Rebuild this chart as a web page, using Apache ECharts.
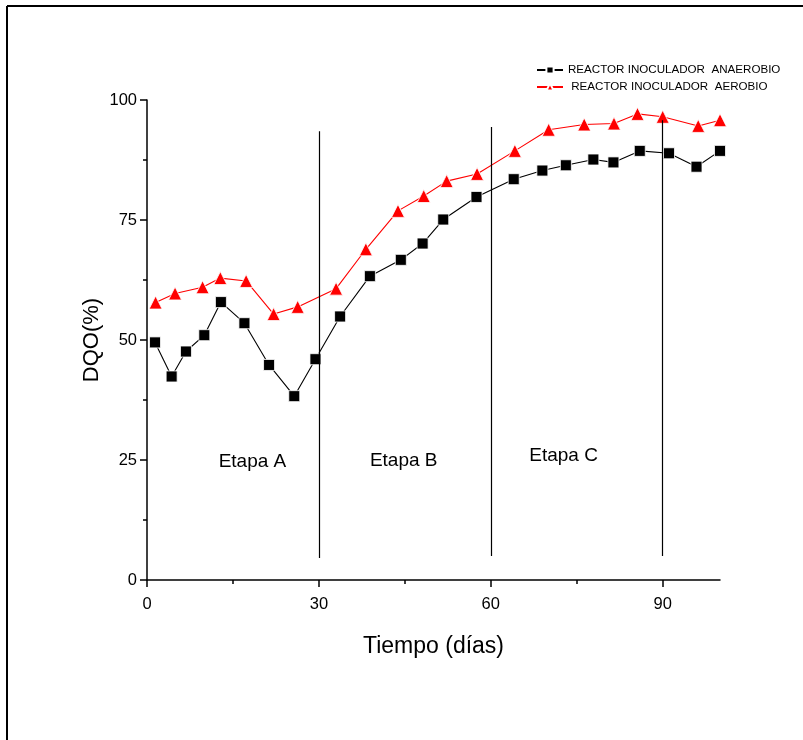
<!DOCTYPE html>
<html>
<head>
<meta charset="utf-8">
<script src="https://cdn.jsdelivr.net/npm/echarts@6/dist/echarts.min.js"></script>
<style>
  html, body { margin: 0; padding: 0; background: #fff; }
  #chart { width: 803px; height: 740px; }
</style>
</head>
<body>
<div id="chart"></div>
<script>
// Removal of COD (DQO, %) over time for the two inoculated reactors
const anaerobioDias = [1.4, 4.3, 6.8, 10.0, 12.9, 17.0, 21.3, 25.7, 29.4, 33.7, 38.9, 44.3, 48.1, 51.7, 57.5, 64.0, 69.0, 73.1, 77.9, 81.4, 86.0, 91.1, 95.9, 100.0];
const anaerobioDQO  = [49.5, 42.4, 47.6, 51.0, 57.9, 53.5, 44.8, 38.3, 46.0, 54.9, 63.3, 66.7, 70.1, 75.1, 79.8, 83.5, 85.3, 86.4, 87.6, 87.0, 89.4, 88.9, 86.1, 89.4];

const aerobioDias = [1.5, 4.9, 9.7, 12.8, 17.3, 22.1, 26.3, 33.0, 38.2, 43.8, 48.3, 52.3, 57.6, 64.2, 70.1, 76.3, 81.5, 85.6, 90.0, 96.2, 100.0];
const aerobioDQO  = [57.8, 59.7, 61.0, 62.9, 62.3, 55.4, 56.9, 60.7, 68.9, 76.9, 80.0, 83.1, 84.6, 89.4, 93.8, 94.9, 95.1, 97.1, 96.5, 94.6, 95.8];

// Stage boundaries: day, lower and upper DQO value of each separator line
const limitesDias = [30, 60, 90];
const limitesDesde = [4.6, 5.0, 5.0];
const limitesHasta = [93.5, 94.4, 95.8];

// Stage names and where they are written (day, DQO)
const etapas = ['Etapa A', 'Etapa B', 'Etapa C'];
const etapasDias = [18.4, 44.8, 72.7];
const etapasDQO = [24.6, 24.8, 25.8];

const nombreAnaerobio = 'REACTOR INOCULADOR  ANAEROBIO';
const nombreAerobio = ' REACTOR INOCULADOR  AEROBIO';

const xTicks = [0, 30, 60, 90];
const yTicks = [0, 25, 50, 75, 100];

const font = '"Liberation Sans", Arial, sans-serif';
const pair = (xs, ys) => xs.map((x, i) => [x, ys[i]]);

const chart = echarts.init(document.getElementById('chart'), null, { renderer: 'canvas' });

chart.setOption({
  backgroundColor: '#fff',
  animation: false,
  textStyle: { fontFamily: font },
  graphic: [
    { type: 'line', shape: { x1: 7, y1: 6, x2: 803, y2: 6 }, style: { stroke: '#000', lineWidth: 2 } },
    { type: 'line', shape: { x1: 7, y1: 6, x2: 7, y2: 740 }, style: { stroke: '#000', lineWidth: 2 } }
  ],
  legend: {
    data: [nombreAnaerobio, nombreAerobio],
    orient: 'vertical',
    left: 531,
    top: 59,
    itemWidth: 26,
    itemHeight: 9,
    itemGap: 5,
    textStyle: { fontSize: 11.6, color: '#000', fontFamily: font }
  },
  grid: { left: 147, right: 83, top: 100, bottom: 160, containLabel: false },
  xAxis: {
    type: 'value',
    min: 0, max: 100, interval: 30,
    name: 'Tiempo (días)',
    nameLocation: 'middle',
    nameGap: 55,
    nameMoveOverlap: false,
    nameTextStyle: { fontSize: 23, color: '#000', fontFamily: font },
    axisLine: { show: true, onZero: false, lineStyle: { color: '#000', width: 1.5 } },
    axisTick: { show: true, length: 7, lineStyle: { color: '#000', width: 1.5 },
      customValues: xTicks },
    minorTick: { show: true, splitNumber: 2, length: 4, lineStyle: { color: '#000', width: 1.5 } },
    axisLabel: { fontSize: 16.5, color: '#000', margin: 16, fontFamily: font,
      customValues: xTicks },
    splitLine: { show: false }
  },
  yAxis: {
    type: 'value',
    min: 0, max: 100, interval: 25,
    name: 'DQO(%)',
    nameLocation: 'middle',
    nameGap: 44,
    nameMoveOverlap: false,
    nameRotate: 90,
    nameTextStyle: { fontSize: 22, color: '#000', fontFamily: font },
    axisLine: { show: true, onZero: false, lineStyle: { color: '#000', width: 1.5 } },
    axisTick: { show: true, length: 7, lineStyle: { color: '#000', width: 1.5 } },
    minorTick: { show: true, splitNumber: 2, length: 4, lineStyle: { color: '#000', width: 1.5 } },
    axisLabel: { fontSize: 16.5, color: '#000', margin: 10, fontFamily: font,
      customValues: yTicks },
    splitLine: { show: false }
  },
  series: [
    {
      name: nombreAnaerobio,
      type: 'line',
      data: pair(anaerobioDias, anaerobioDQO),
      symbol: 'rect',
      symbolSize: 11,
      color: '#000',
      lineStyle: { color: '#000', width: 1.1 },
      itemStyle: { color: '#000', borderColor: '#fff', borderWidth: 0.8 },
      clip: false,
      z: 3,
      markLine: {
        silent: true,
        symbol: ['none', 'none'],
        label: { show: false },
        lineStyle: { color: '#000', width: 1.2, type: 'solid' },
        data: limitesDias.map((d, i) => [
          { coord: [d, limitesDesde[i]] },
          { coord: [d, limitesHasta[i]] }
        ])
      }
    },
    {
      name: nombreAerobio,
      type: 'line',
      data: pair(aerobioDias, aerobioDQO),
      symbol: 'triangle',
      symbolSize: 13,
      color: '#ff0000',
      lineStyle: { color: '#ff0000', width: 1.1 },
      itemStyle: { color: '#ff0000', borderColor: '#fff', borderWidth: 0.8 },
      clip: false,
      z: 4
    },
    {
      name: 'etapas',
      type: 'scatter',
      silent: true,
      symbolSize: 0,
      itemStyle: { opacity: 1 },
      data: etapas.map((t, i) => ({ name: t, value: [etapasDias[i], etapasDQO[i]] })),
      label: {
        show: true,
        position: 'inside',
        formatter: p => p.name,
        fontSize: 19,
        color: '#000',
        fontFamily: font
      }
    }
  ]
});
</script>
</body>
</html>
